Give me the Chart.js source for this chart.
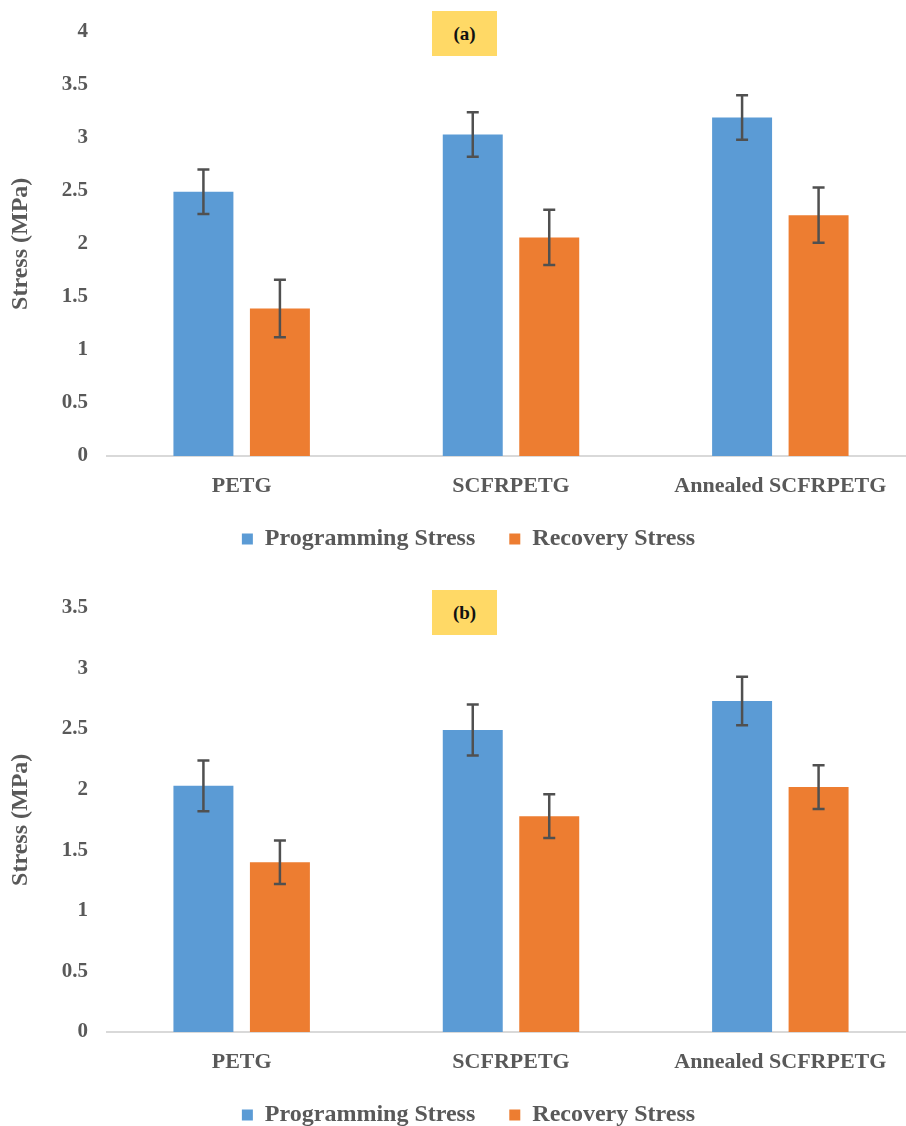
<!DOCTYPE html>
<html>
<head>
<meta charset="utf-8">
<script src="https://cdn.jsdelivr.net/npm/chart.js@4.4.1/dist/chart.umd.min.js"></script>
<style>
    html, body {
        margin: 0;
        padding: 0;
        background: #ffffff;
        width: 906px;
        height: 1126px;
        overflow: hidden;
        position: relative;
    }
    .panel {
        position: absolute;
        left: 0;
        width: 937px;
        height: 561px;
    }
    .tag {
        position: absolute;
        left: 432px;
        width: 65px;
        height: 45px;
        background: #FFD966;
        font: bold 19px "Liberation Serif", "Times New Roman", serif;
        color: #111;
        display: flex;
        align-items: center;
        justify-content: center;
    }
</style>
</head>
<body>
<div class="panel" style="top:0px;"><canvas id="chartA" width="937" height="561"></canvas></div>
<div class="panel" style="top:576px;"><canvas id="chartB" width="937" height="561"></canvas></div>
<div class="tag" style="top:11px;">(a)</div>
<div class="tag" style="top:590px;">(b)</div>

<script>
// categories shared by both panels
const categories = ["PETG", "SCFRPETG", "Annealed SCFRPETG"];
const seriesNames = ["Programming Stress", "Recovery Stress"];

// panel (a)
const programmingA = [2.49, 3.03, 3.19];
const programmingErrA = [0.21, 0.21, 0.21];
const recoveryA = [1.39, 2.06, 2.27];
const recoveryErrA = [0.27, 0.26, 0.26];
const yTicksA = [0, 0.5, 1, 1.5, 2, 2.5, 3, 3.5, 4];

// panel (b)
const programmingB = [2.03, 2.49, 2.73];
const programmingErrB = [0.21, 0.21, 0.20];
const recoveryB = [1.40, 1.78, 2.02];
const recoveryErrB = [0.18, 0.18, 0.18];
const yTicksB = [0, 0.5, 1, 1.5, 2, 2.5, 3, 3.5];

const BLUE = "#5B9BD5";
const ORANGE = "#ED7D31";
const TEXT = "#595959";
const SERIF = '"Liberation Serif", "Times New Roman", serif';

Chart.defaults.font.family = SERIF;
Chart.defaults.font.weight = "bold";
Chart.defaults.color = TEXT;

// draws the +/- error whiskers on top of each bar
const errorBars = {
    id: "errorBars",
    afterDatasetsDraw(chart) {
        const ctx = chart.ctx;
        const yScale = chart.scales.y;
        ctx.save();
        ctx.strokeStyle = "#505050";
        ctx.lineWidth = 2.5;
        chart.data.datasets.forEach((ds, i) => {
            const meta = chart.getDatasetMeta(i);
            meta.data.forEach((bar, j) => {
                const v = ds.data[j];
                const e = ds.errors[j];
                const yTop = yScale.getPixelForValue(v + e);
                const yBot = yScale.getPixelForValue(v - e);
                const cap = 6;
                ctx.beginPath();
                ctx.moveTo(bar.x, yTop);
                ctx.lineTo(bar.x, yBot);
                ctx.moveTo(bar.x - cap, yTop);
                ctx.lineTo(bar.x + cap, yTop);
                ctx.moveTo(bar.x - cap, yBot);
                ctx.lineTo(bar.x + cap, yBot);
                ctx.stroke();
            });
        });
        ctx.restore();
    }
};

function makeChart(canvasId, prog, progErr, rec, recErr, yTicks) {
    const canvas = document.getElementById(canvasId);
    return new Chart(canvas.getContext("2d"), {
        type: "bar",
        data: {
            labels: categories,
            datasets: [
                {
                    label: seriesNames[0],
                    data: prog,
                    errors: progErr,
                    backgroundColor: BLUE,
                    categoryPercentage: 0.568,
                    barPercentage: 0.784,
                },
                {
                    label: seriesNames[1],
                    data: rec,
                    errors: recErr,
                    backgroundColor: ORANGE,
                    categoryPercentage: 0.568,
                    barPercentage: 0.784,
                }
            ]
        },
        options: {
            responsive: false,
            animation: false,
            layout: { padding: { top: 27, left: 0, right: 0, bottom: 0 } },
            plugins: {
                legend: {
                    position: "bottom",
                    labels: {
                        boxWidth: 11,
                        boxHeight: 11,
                        padding: 10,
                        color: TEXT,
                        font: { size: 24, weight: "bold", family: SERIF },
                        // wider gap after the first entry, like the original
                        generateLabels(chart) {
                            const items = Chart.defaults.plugins.legend.labels.generateLabels(chart);
                            items[0].text = items[0].text + "    ";
                            return items;
                        }
                    }
                },
                tooltip: { enabled: false }
            },
            scales: {
                x: {
                    grid: { display: false, drawTicks: false },
                    border: { display: true, color: "#d9d9d9", width: 2 },
                    ticks: {
                        padding: 17,
                        maxRotation: 0,
                        autoSkip: false,
                        color: TEXT,
                        font: { size: 22, weight: "bold", family: SERIF }
                    },
                    afterFit(scale) { scale.height = 61; }
                },
                y: {
                    min: yTicks[0],
                    max: yTicks[yTicks.length - 1],
                    afterBuildTicks(scale) {
                        scale.ticks = yTicks.map(v => ({ value: v }));
                    },
                    grid: { display: false, drawTicks: false },
                    border: { display: false },
                    ticks: {
                        padding: 19,
                        color: TEXT,
                        font: { size: 21, weight: "bold", family: SERIF },
                        callback: v => String(v)
                    },
                    title: {
                        display: true,
                        text: "Stress (MPa)",
                        color: TEXT,
                        padding: { top: 6, bottom: 0 },
                        font: { size: 24, weight: "bold", family: SERIF }
                    },
                    afterFit(scale) { scale.width = 107; }
                },
                // empty strip on the right so the plot runs off the page edge
                yRight: {
                    position: "right",
                    grid: { display: false, drawTicks: false },
                    border: { display: false },
                    ticks: { display: false },
                    afterFit(scale) { scale.width = 22; }
                }
            }
        },
        plugins: [errorBars]
    });
}

makeChart("chartA", programmingA, programmingErrA, recoveryA, recoveryErrA, yTicksA);
makeChart("chartB", programmingB, programmingErrB, recoveryB, recoveryErrB, yTicksB);
</script>
</body>
</html>
